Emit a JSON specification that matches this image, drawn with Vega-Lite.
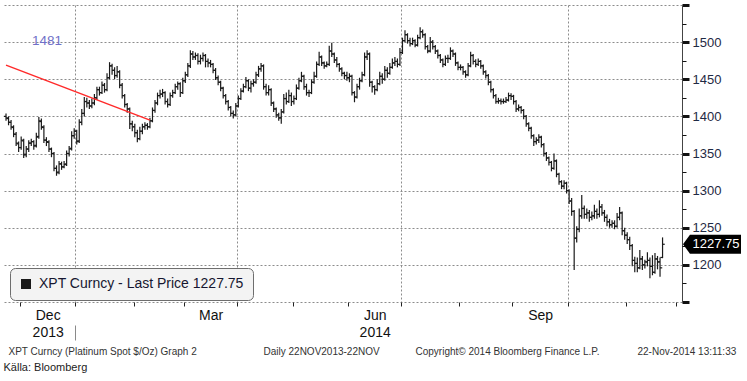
{
"$schema": "https://vega.github.io/schema/vega-lite/v6.json",
"width": 678, "height": 297,
"autosize": "none",
"padding": {"left": 4, "top": 5, "right": 65, "bottom": 79},
"background": "white",
"config": {"view": {"stroke": null}, "font": "Liberation Sans"},
"datasets": {
"px": [
{"i":0,"o":1400,"h":1404,"l":1394,"c":1398},{"i":1,"o":1397,"h":1400,"l":1388,"c":1392},{"i":2,"o":1392,"h":1395,"l":1382,"c":1386},{"i":3,"o":1385,"h":1388,"l":1372,"c":1376},{"i":4,"o":1376,"h":1379,"l":1360,"c":1364},{"i":5,"o":1363,"h":1366,"l":1352,"c":1358},{"i":6,"o":1358,"h":1373,"l":1355,"c":1368},{"i":7,"o":1367,"h":1370,"l":1344,"c":1348},{"i":8,"o":1349,"h":1360,"l":1345,"c":1356},{"i":9,"o":1356,"h":1368,"l":1352,"c":1364},
{"i":10,"o":1364,"h":1370,"l":1360,"c":1366},{"i":11,"o":1366,"h":1368,"l":1355,"c":1360},{"i":12,"o":1361,"h":1378,"l":1358,"c":1372},{"i":13,"o":1373,"h":1399,"l":1370,"c":1394},{"i":14,"o":1393,"h":1397,"l":1382,"c":1386},{"i":15,"o":1385,"h":1388,"l":1364,"c":1368},{"i":16,"o":1368,"h":1372,"l":1360,"c":1366},{"i":17,"o":1365,"h":1368,"l":1352,"c":1356},{"i":18,"o":1356,"h":1358,"l":1345,"c":1350},{"i":19,"o":1350,"h":1352,"l":1326,"c":1330},
{"i":20,"o":1330,"h":1334,"l":1320,"c":1324},{"i":21,"o":1325,"h":1340,"l":1322,"c":1336},{"i":22,"o":1336,"h":1339,"l":1328,"c":1332},{"i":23,"o":1332,"h":1340,"l":1330,"c":1335},{"i":24,"o":1336,"h":1354,"l":1333,"c":1350},{"i":25,"o":1350,"h":1360,"l":1346,"c":1356},{"i":26,"o":1357,"h":1380,"l":1354,"c":1374},{"i":27,"o":1374,"h":1384,"l":1370,"c":1380},{"i":28,"o":1380,"h":1382,"l":1362,"c":1366},{"i":29,"o":1367,"h":1396,"l":1364,"c":1392},
{"i":30,"o":1392,"h":1410,"l":1388,"c":1404},{"i":31,"o":1404,"h":1426,"l":1400,"c":1420},{"i":32,"o":1420,"h":1425,"l":1412,"c":1418},{"i":33,"o":1418,"h":1422,"l":1410,"c":1414},{"i":34,"o":1414,"h":1424,"l":1411,"c":1418},{"i":35,"o":1418,"h":1430,"l":1415,"c":1425},{"i":36,"o":1425,"h":1440,"l":1422,"c":1436},{"i":37,"o":1436,"h":1440,"l":1428,"c":1432},{"i":38,"o":1432,"h":1447,"l":1430,"c":1442},{"i":39,"o":1442,"h":1445,"l":1432,"c":1436},
{"i":40,"o":1436,"h":1458,"l":1434,"c":1452},{"i":41,"o":1452,"h":1473,"l":1450,"c":1468},{"i":42,"o":1468,"h":1471,"l":1456,"c":1462},{"i":43,"o":1462,"h":1466,"l":1450,"c":1455},{"i":44,"o":1455,"h":1468,"l":1452,"c":1460},{"i":45,"o":1460,"h":1462,"l":1438,"c":1442},{"i":46,"o":1442,"h":1445,"l":1424,"c":1428},{"i":47,"o":1428,"h":1430,"l":1412,"c":1416},{"i":48,"o":1416,"h":1418,"l":1405,"c":1410},{"i":49,"o":1410,"h":1412,"l":1383,"c":1390},
{"i":50,"o":1390,"h":1394,"l":1380,"c":1386},{"i":51,"o":1386,"h":1390,"l":1372,"c":1378},{"i":52,"o":1378,"h":1382,"l":1365,"c":1370},{"i":53,"o":1370,"h":1386,"l":1368,"c":1380},{"i":54,"o":1380,"h":1390,"l":1376,"c":1386},{"i":55,"o":1386,"h":1392,"l":1382,"c":1388},{"i":56,"o":1388,"h":1391,"l":1382,"c":1386},{"i":57,"o":1386,"h":1398,"l":1384,"c":1394},{"i":58,"o":1394,"h":1412,"l":1392,"c":1408},{"i":59,"o":1408,"h":1422,"l":1405,"c":1418},
{"i":60,"o":1418,"h":1432,"l":1415,"c":1428},{"i":61,"o":1428,"h":1436,"l":1424,"c":1430},{"i":62,"o":1430,"h":1437,"l":1426,"c":1432},{"i":63,"o":1432,"h":1434,"l":1416,"c":1420},{"i":64,"o":1420,"h":1424,"l":1412,"c":1416},{"i":65,"o":1416,"h":1432,"l":1414,"c":1428},{"i":66,"o":1428,"h":1436,"l":1425,"c":1432},{"i":67,"o":1432,"h":1444,"l":1430,"c":1440},{"i":68,"o":1440,"h":1447,"l":1436,"c":1444},{"i":69,"o":1444,"h":1446,"l":1426,"c":1432},
{"i":70,"o":1432,"h":1452,"l":1430,"c":1448},{"i":71,"o":1448,"h":1460,"l":1445,"c":1456},{"i":72,"o":1456,"h":1472,"l":1453,"c":1468},{"i":73,"o":1468,"h":1489,"l":1465,"c":1484},{"i":74,"o":1484,"h":1488,"l":1476,"c":1480},{"i":75,"o":1480,"h":1486,"l":1476,"c":1482},{"i":76,"o":1482,"h":1485,"l":1470,"c":1474},{"i":77,"o":1474,"h":1483,"l":1470,"c":1478},{"i":78,"o":1478,"h":1486,"l":1474,"c":1482},{"i":79,"o":1482,"h":1484,"l":1466,"c":1474},
{"i":80,"o":1474,"h":1478,"l":1466,"c":1472},{"i":81,"o":1472,"h":1476,"l":1466,"c":1470},{"i":82,"o":1470,"h":1472,"l":1458,"c":1462},{"i":83,"o":1462,"h":1465,"l":1449,"c":1452},{"i":84,"o":1452,"h":1455,"l":1442,"c":1446},{"i":85,"o":1446,"h":1448,"l":1434,"c":1438},{"i":86,"o":1438,"h":1440,"l":1424,"c":1428},{"i":87,"o":1428,"h":1430,"l":1416,"c":1420},{"i":88,"o":1420,"h":1422,"l":1408,"c":1412},{"i":89,"o":1412,"h":1414,"l":1400,"c":1404},
{"i":90,"o":1404,"h":1408,"l":1397,"c":1402},{"i":91,"o":1402,"h":1418,"l":1400,"c":1414},{"i":92,"o":1414,"h":1428,"l":1412,"c":1424},{"i":93,"o":1424,"h":1438,"l":1422,"c":1434},{"i":94,"o":1434,"h":1444,"l":1432,"c":1440},{"i":95,"o":1440,"h":1453,"l":1438,"c":1448},{"i":96,"o":1448,"h":1450,"l":1434,"c":1438},{"i":97,"o":1438,"h":1448,"l":1432,"c":1444},{"i":98,"o":1444,"h":1450,"l":1440,"c":1446},{"i":99,"o":1446,"h":1460,"l":1444,"c":1456},
{"i":100,"o":1456,"h":1468,"l":1453,"c":1464},{"i":101,"o":1464,"h":1472,"l":1460,"c":1468},{"i":102,"o":1468,"h":1470,"l":1436,"c":1440},{"i":103,"o":1440,"h":1444,"l":1428,"c":1432},{"i":104,"o":1432,"h":1442,"l":1428,"c":1436},{"i":105,"o":1436,"h":1438,"l":1414,"c":1418},{"i":106,"o":1418,"h":1420,"l":1406,"c":1410},{"i":107,"o":1410,"h":1412,"l":1398,"c":1402},{"i":108,"o":1402,"h":1405,"l":1394,"c":1398},{"i":109,"o":1398,"h":1410,"l":1390,"c":1406},
{"i":110,"o":1406,"h":1430,"l":1404,"c":1424},{"i":111,"o":1424,"h":1432,"l":1416,"c":1420},{"i":112,"o":1420,"h":1436,"l":1418,"c":1428},{"i":113,"o":1428,"h":1432,"l":1414,"c":1420},{"i":114,"o":1420,"h":1428,"l":1416,"c":1424},{"i":115,"o":1424,"h":1443,"l":1422,"c":1438},{"i":116,"o":1438,"h":1452,"l":1436,"c":1448},{"i":117,"o":1448,"h":1460,"l":1446,"c":1454},{"i":118,"o":1454,"h":1456,"l":1436,"c":1440},{"i":119,"o":1440,"h":1444,"l":1428,"c":1432},
{"i":120,"o":1432,"h":1436,"l":1426,"c":1432},{"i":121,"o":1432,"h":1450,"l":1430,"c":1446},{"i":122,"o":1446,"h":1460,"l":1444,"c":1454},{"i":123,"o":1454,"h":1474,"l":1452,"c":1470},{"i":124,"o":1470,"h":1487,"l":1468,"c":1480},{"i":125,"o":1480,"h":1482,"l":1468,"c":1472},{"i":126,"o":1472,"h":1474,"l":1464,"c":1468},{"i":127,"o":1468,"h":1474,"l":1466,"c":1470},{"i":128,"o":1470,"h":1495,"l":1468,"c":1488},{"i":129,"o":1488,"h":1499,"l":1480,"c":1484},
{"i":130,"o":1484,"h":1486,"l":1472,"c":1476},{"i":131,"o":1476,"h":1480,"l":1466,"c":1470},{"i":132,"o":1470,"h":1472,"l":1460,"c":1464},{"i":133,"o":1464,"h":1466,"l":1454,"c":1458},{"i":134,"o":1458,"h":1460,"l":1450,"c":1455},{"i":135,"o":1455,"h":1460,"l":1448,"c":1452},{"i":136,"o":1452,"h":1458,"l":1446,"c":1454},{"i":137,"o":1454,"h":1456,"l":1428,"c":1432},{"i":138,"o":1432,"h":1434,"l":1419,"c":1426},{"i":139,"o":1426,"h":1444,"l":1424,"c":1440},
{"i":140,"o":1440,"h":1452,"l":1436,"c":1448},{"i":141,"o":1448,"h":1460,"l":1446,"c":1456},{"i":142,"o":1456,"h":1486,"l":1454,"c":1480},{"i":143,"o":1480,"h":1489,"l":1476,"c":1484},{"i":144,"o":1484,"h":1486,"l":1440,"c":1446},{"i":145,"o":1446,"h":1448,"l":1432,"c":1440},{"i":146,"o":1440,"h":1442,"l":1429,"c":1436},{"i":147,"o":1436,"h":1450,"l":1434,"c":1444},{"i":148,"o":1444,"h":1460,"l":1442,"c":1454},{"i":149,"o":1454,"h":1458,"l":1444,"c":1450},
{"i":150,"o":1450,"h":1468,"l":1448,"c":1462},{"i":151,"o":1462,"h":1466,"l":1452,"c":1458},{"i":152,"o":1458,"h":1472,"l":1456,"c":1466},{"i":153,"o":1466,"h":1478,"l":1464,"c":1472},{"i":154,"o":1472,"h":1480,"l":1468,"c":1474},{"i":155,"o":1474,"h":1478,"l":1466,"c":1470},{"i":156,"o":1470,"h":1492,"l":1468,"c":1486},{"i":157,"o":1486,"h":1506,"l":1484,"c":1502},{"i":158,"o":1502,"h":1516,"l":1500,"c":1510},{"i":159,"o":1510,"h":1512,"l":1498,"c":1502},
{"i":160,"o":1502,"h":1506,"l":1494,"c":1498},{"i":161,"o":1498,"h":1506,"l":1496,"c":1502},{"i":162,"o":1502,"h":1504,"l":1493,"c":1496},{"i":163,"o":1496,"h":1510,"l":1494,"c":1506},{"i":164,"o":1506,"h":1520,"l":1504,"c":1514},{"i":165,"o":1514,"h":1517,"l":1506,"c":1510},{"i":166,"o":1510,"h":1512,"l":1490,"c":1494},{"i":167,"o":1494,"h":1496,"l":1485,"c":1488},{"i":168,"o":1488,"h":1507,"l":1486,"c":1500},{"i":169,"o":1500,"h":1503,"l":1490,"c":1494},
{"i":170,"o":1494,"h":1496,"l":1484,"c":1488},{"i":171,"o":1488,"h":1490,"l":1478,"c":1482},{"i":172,"o":1482,"h":1484,"l":1472,"c":1476},{"i":173,"o":1476,"h":1478,"l":1466,"c":1470},{"i":174,"o":1470,"h":1482,"l":1468,"c":1478},{"i":175,"o":1478,"h":1483,"l":1472,"c":1478},{"i":176,"o":1478,"h":1493,"l":1476,"c":1488},{"i":177,"o":1488,"h":1490,"l":1480,"c":1484},{"i":178,"o":1484,"h":1486,"l":1468,"c":1472},{"i":179,"o":1472,"h":1474,"l":1462,"c":1466},
{"i":180,"o":1466,"h":1470,"l":1462,"c":1466},{"i":181,"o":1466,"h":1468,"l":1456,"c":1460},{"i":182,"o":1460,"h":1462,"l":1452,"c":1456},{"i":183,"o":1456,"h":1472,"l":1454,"c":1468},{"i":184,"o":1468,"h":1487,"l":1466,"c":1482},{"i":185,"o":1482,"h":1484,"l":1470,"c":1474},{"i":186,"o":1474,"h":1477,"l":1466,"c":1470},{"i":187,"o":1470,"h":1478,"l":1468,"c":1474},{"i":188,"o":1474,"h":1476,"l":1464,"c":1468},{"i":189,"o":1468,"h":1470,"l":1456,"c":1460},
{"i":190,"o":1460,"h":1462,"l":1451,"c":1455},{"i":191,"o":1455,"h":1457,"l":1442,"c":1446},{"i":192,"o":1446,"h":1448,"l":1432,"c":1436},{"i":193,"o":1436,"h":1438,"l":1424,"c":1428},{"i":194,"o":1428,"h":1430,"l":1417,"c":1420},{"i":195,"o":1420,"h":1425,"l":1417,"c":1421},{"i":196,"o":1421,"h":1424,"l":1416,"c":1420},{"i":197,"o":1420,"h":1424,"l":1417,"c":1420},{"i":198,"o":1420,"h":1426,"l":1418,"c":1422},{"i":199,"o":1422,"h":1432,"l":1420,"c":1428},
{"i":200,"o":1428,"h":1431,"l":1422,"c":1427},{"i":201,"o":1427,"h":1429,"l":1416,"c":1420},{"i":202,"o":1420,"h":1422,"l":1406,"c":1410},{"i":203,"o":1410,"h":1416,"l":1407,"c":1412},{"i":204,"o":1412,"h":1414,"l":1404,"c":1408},{"i":205,"o":1408,"h":1410,"l":1396,"c":1400},{"i":206,"o":1400,"h":1402,"l":1386,"c":1390},{"i":207,"o":1390,"h":1392,"l":1380,"c":1384},{"i":208,"o":1384,"h":1386,"l":1370,"c":1374},{"i":209,"o":1374,"h":1376,"l":1360,"c":1366},
{"i":210,"o":1366,"h":1372,"l":1362,"c":1368},{"i":211,"o":1368,"h":1376,"l":1364,"c":1372},{"i":212,"o":1372,"h":1374,"l":1358,"c":1362},{"i":213,"o":1362,"h":1364,"l":1346,"c":1350},{"i":214,"o":1350,"h":1352,"l":1340,"c":1344},{"i":215,"o":1344,"h":1346,"l":1334,"c":1338},{"i":216,"o":1338,"h":1340,"l":1326,"c":1330},{"i":217,"o":1330,"h":1350,"l":1328,"c":1340},{"i":218,"o":1340,"h":1342,"l":1318,"c":1322},{"i":219,"o":1322,"h":1324,"l":1308,"c":1312},
{"i":220,"o":1312,"h":1314,"l":1302,"c":1306},{"i":221,"o":1306,"h":1314,"l":1302,"c":1310},{"i":222,"o":1310,"h":1312,"l":1296,"c":1300},{"i":223,"o":1300,"h":1302,"l":1282,"c":1286},{"i":224,"o":1286,"h":1290,"l":1266,"c":1272},{"i":225,"o":1272,"h":1274,"l":1193,"c":1236},{"i":226,"o":1236,"h":1252,"l":1230,"c":1248},{"i":227,"o":1248,"h":1276,"l":1244,"c":1266},{"i":228,"o":1266,"h":1294,"l":1262,"c":1276},{"i":229,"o":1276,"h":1280,"l":1262,"c":1268},
{"i":230,"o":1268,"h":1276,"l":1262,"c":1270},{"i":231,"o":1270,"h":1274,"l":1258,"c":1264},{"i":232,"o":1264,"h":1272,"l":1260,"c":1266},{"i":233,"o":1266,"h":1281,"l":1262,"c":1272},{"i":234,"o":1272,"h":1276,"l":1262,"c":1268},{"i":235,"o":1268,"h":1287,"l":1264,"c":1278},{"i":236,"o":1278,"h":1282,"l":1266,"c":1270},{"i":237,"o":1270,"h":1274,"l":1258,"c":1264},{"i":238,"o":1264,"h":1268,"l":1252,"c":1258},{"i":239,"o":1258,"h":1262,"l":1250,"c":1254},
{"i":240,"o":1254,"h":1260,"l":1250,"c":1256},{"i":241,"o":1256,"h":1260,"l":1248,"c":1252},{"i":242,"o":1252,"h":1270,"l":1250,"c":1264},{"i":243,"o":1264,"h":1278,"l":1260,"c":1270},{"i":244,"o":1270,"h":1272,"l":1240,"c":1246},{"i":245,"o":1246,"h":1250,"l":1234,"c":1240},{"i":246,"o":1240,"h":1244,"l":1228,"c":1234},{"i":247,"o":1234,"h":1238,"l":1220,"c":1226},{"i":248,"o":1226,"h":1228,"l":1198,"c":1206},{"i":249,"o":1206,"h":1211,"l":1190,"c":1202},
{"i":250,"o":1202,"h":1210,"l":1190,"c":1196},{"i":251,"o":1196,"h":1220,"l":1194,"c":1208},{"i":252,"o":1208,"h":1212,"l":1193,"c":1200},{"i":253,"o":1200,"h":1207,"l":1195,"c":1204},{"i":254,"o":1204,"h":1217,"l":1198,"c":1206},{"i":255,"o":1206,"h":1210,"l":1182,"c":1198},{"i":256,"o":1198,"h":1213,"l":1186,"c":1190},{"i":257,"o":1190,"h":1216,"l":1188,"c":1208},{"i":258,"o":1208,"h":1212,"l":1194,"c":1204},{"i":259,"o":1204,"h":1210,"l":1184,"c":1196},
{"i":260,"o":1210,"h":1237,"l":1209,"c":1227.75}
],
"trend": [{"i":0,"c":1469},{"i":57,"c":1395}],
"note": [{"i":16.2,"c":1501.5,"txt":"1481"}]
},
"resolve": {"scale": {"x": "shared", "y": "shared"}, "axis": {"x": "independent", "y": "independent"}},
"layer": [
{
"data": {"name": "px"},
"mark": {"type": "rule", "color": "#1a1a1a", "strokeWidth": 1.2},
"encoding": {
"x": {"field": "i", "type": "quantitative",
 "scale": {"domain": [-0.8, 267.7], "nice": false, "zero": false},
 "axis": {"orient": "bottom", "values": [5.5, 27.5, 50.5, 70.5, 91.5, 113.5, 135.5, 156.5, 179.5, 200.5, 222.5, 245.5, 265.5],
  "labels": false, "domain": false, "ticks": true, "tickSize": 4, "tickColor": "#222", "tickWidth": 1,
  "grid": false,
  "title": "XPT Curncy (Platinum Spot  $/Oz) Graph 2", "titleX": 4, "titleY": 52, "titleAlign": "left", "titleBaseline": "alphabetic", "titleAngle": 0,
  "titleFont": "Liberation Sans", "titleFontSize": 10, "titleFontWeight": "normal", "titleColor": "#333"}},
"y": {"field": "l", "type": "quantitative",
 "scale": {"domain": [1150, 1550], "nice": false, "zero": false},
 "axis": {"orient": "right", "values": [1150, 1200, 1250, 1300, 1350, 1400, 1450, 1500, 1550],
  "format": "d",
  "labelExpr": "(datum.value >= 1200 && datum.value <= 1500) ? datum.label : ''",
  "labelFont": "Liberation Sans", "labelFontSize": 13, "labelColor": "#1f2a44", "labelPadding": 3,
  "domain": true, "domainColor": "#444", "domainWidth": 1,
  "ticks": true, "tickColor": "#111", "tickSize": 7, "tickWidth": 3,
  "grid": true, "gridColor": "#8c8c8c", "gridDash": [2, 2], "gridWidth": 1,
  "labelOverlap": false, "labelFlush": false, "labelBound": false,
  "title": "Källa: Bloomberg", "titleX": -679, "titleY": 365, "titleAngle": 0, "titleAlign": "left", "titleBaseline": "alphabetic",
  "titleFont": "Liberation Sans", "titleFontSize": 11, "titleFontWeight": "normal", "titleColor": "#222"}},
"y2": {"field": "h"}
}
},
{
"data": {"name": "px"},
"mark": {"type": "tick", "orient": "horizontal", "size": 2.2, "thickness": 1.2, "xOffset": -1.1, "opacity": 1},
"encoding": {
"x": {"field": "i", "type": "quantitative",
 "axis": {"orient": "bottom", "values": [27.5, 91.5, 156.5, 222.5], "labels": false, "domain": false, "ticks": false, "grid": true,
  "gridColor": "#8c8c8c", "gridDash": [2, 2], "gridWidth": 1,
  "title": "Daily 22NOV2013-22NOV", "titleX": 259, "titleY": 52, "titleAlign": "left", "titleBaseline": "alphabetic", "titleAngle": 0,
  "titleFont": "Liberation Sans", "titleFontSize": 10, "titleFontWeight": "normal", "titleColor": "#333"}},
"y": {"field": "o", "type": "quantitative",
 "axis": {"orient": "left", "offset": -678, "values": [1175, 1225, 1275, 1325, 1375, 1425, 1475, 1525],
  "labels": false, "domain": false, "grid": false, "ticks": true, "tickSize": -4, "tickColor": "#111", "tickWidth": 1, "title": null}},
"color": {"datum": "XPT Curncy - Last Price 1227.75", "scale": {"range": ["#1a1a1a"]},
 "legend": {"orient": "none", "legendX": 6, "legendY": 263, "title": null,
  "symbolType": "square", "symbolSize": 100, "symbolFillColor": "#000", "symbolStrokeColor": "#000", "symbolStrokeWidth": 0, "symbolOpacity": 1,
  "labelFont": "Liberation Sans", "labelFontSize": 14, "labelColor": "#161630", "labelLimit": 400, "labelOffset": 6,
  "padding": 9, "fillColor": "#f3f3f3", "strokeColor": "#6e6e6e", "cornerRadius": 5}}
}
},
{
"data": {"name": "px"},
"mark": {"type": "tick", "orient": "horizontal", "size": 2.2, "thickness": 1.2, "xOffset": 1.1, "color": "#1a1a1a", "opacity": 1},
"encoding": {
"x": {"field": "i", "type": "quantitative",
 "axis": {"orient": "bottom", "values": [16.5, 81, 146, 211.5], "ticks": false, "tickSize": 0, "domain": false, "grid": false,
  "labelExpr": "datum.value == 16.5 ? ['Dec','2013'] : datum.value == 81 ? 'Mar' : datum.value == 146 ? ['Jun','2014'] : 'Sep'",
  "labelFont": "Liberation Sans", "labelFontSize": 14, "labelColor": "#111", "labelPadding": 6, "labelBaseline": "top", "labelLineHeight": 17,
  "labelOverlap": false, "labelFlush": false, "labelBound": false,
  "title": "Copyright© 2014 Bloomberg Finance L.P.", "titleX": 411, "titleY": 52, "titleAlign": "left", "titleBaseline": "alphabetic", "titleAngle": 0,
  "titleFont": "Liberation Sans", "titleFontSize": 10, "titleFontWeight": "normal", "titleColor": "#333"}},
"y": {"field": "c", "type": "quantitative", "axis": null}
}
},
{
"data": {"name": "trend"},
"mark": {"type": "line", "color": "#ff2a2a", "strokeWidth": 1.5},
"encoding": {
"x": {"field": "i", "type": "quantitative",
 "axis": {"orient": "bottom", "values": [27.5], "offset": 23, "labels": false, "domain": false, "grid": false, "ticks": true, "tickSize": 15, "tickColor": "#8a8a8a", "tickWidth": 1,
  "title": "22-Nov-2014 13:11:33", "titleX": 633, "titleY": 29, "titleAlign": "left", "titleBaseline": "alphabetic", "titleAngle": 0,
  "titleFont": "Liberation Sans", "titleFontSize": 10, "titleFontWeight": "normal", "titleColor": "#333"}},
"y": {"field": "c", "type": "quantitative", "axis": null}
}
},
{
"data": {"name": "note"},
"mark": {"type": "text", "font": "Liberation Sans", "fontSize": 13.5, "color": "#6f6fc8", "align": "center", "baseline": "middle"},
"encoding": {
"x": {"field": "i", "type": "quantitative", "axis": null},
"y": {"field": "c", "type": "quantitative", "axis": null},
"text": {"field": "txt"}
}
},
{
"data": {"name": "px"},
"transform": [{"filter": "datum.i == 260"}],
"mark": {"type": "point", "shape": "M -1 0 L -0.76 -0.33 L 1 -0.33 L 1 0.33 L -0.76 0.33 Z", "size": 3364, "filled": true, "color": "#000", "opacity": 1, "xOffset": 30},
"encoding": {
"x": {"value": "width"},
"y": {"field": "c", "type": "quantitative", "axis": null}
}
},
{
"data": {"name": "px"},
"transform": [{"filter": "datum.i == 260"}],
"mark": {"type": "text", "font": "Liberation Sans", "fontSize": 13, "color": "#fff", "align": "center", "baseline": "middle", "xOffset": 34},
"encoding": {
"x": {"value": "width"},
"y": {"field": "c", "type": "quantitative", "axis": null},
"text": {"field": "c", "type": "quantitative", "format": ".2f"}
}
}
]
}
